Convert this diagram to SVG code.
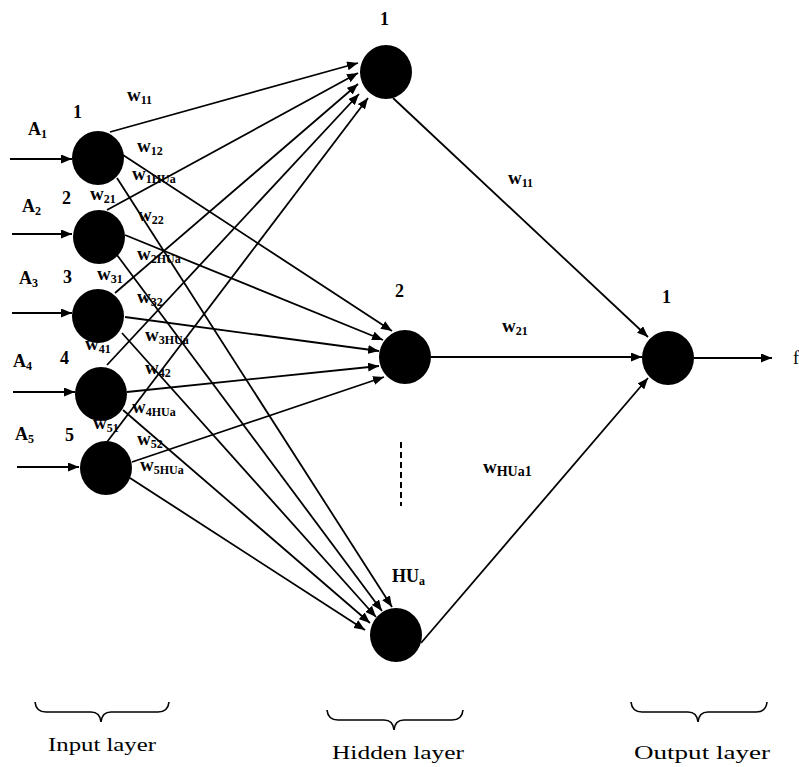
<svg xmlns="http://www.w3.org/2000/svg" width="799" height="767" viewBox="0 0 799 767">
<style>
.node{fill:#000}
.ln{stroke:#000;stroke-width:1.8;fill:none}
.ar{stroke:#000;stroke-width:1.8;fill:none;marker-end:url(#ah)}
.b{font-family:"Liberation Serif","Times New Roman",serif;font-weight:bold;fill:#000}
.w{font-size:19px}
.s{font-size:12px}
.n{font-size:18px}
.cap{font-family:"Liberation Serif","Times New Roman",serif;font-size:19px;fill:#000}
.brace{stroke:#000;stroke-width:1.6;fill:none}
</style>
<defs>
<marker id="ah" markerUnits="userSpaceOnUse" markerWidth="12" markerHeight="9" refX="11" refY="4.5" orient="auto">
<path d="M0,0 L11,4.5 L0,9 z" fill="#000"/>
</marker>
</defs>
<rect width="799" height="767" fill="#fff"/>

<g id="connectors">
<!-- inputs -->
<line class="ar" x1="10" y1="159" x2="72" y2="159"/>
<line class="ar" x1="12" y1="234" x2="72" y2="234"/>
<line class="ar" x1="12" y1="313" x2="72" y2="313"/>
<line class="ar" x1="13" y1="392" x2="75" y2="392"/>
<line class="ar" x1="17" y1="467" x2="79" y2="467"/>
<!-- to hidden 1 -->
<line class="ar" x1="110" y1="132" x2="358" y2="63"/>
<line class="ar" x1="107" y1="210" x2="358" y2="73"/>
<line class="ar" x1="115" y1="293" x2="358" y2="84"/>
<line class="ar" x1="107" y1="365" x2="359" y2="94"/>
<line class="ar" x1="107" y1="442" x2="368" y2="98"/>
<!-- to hidden 2 -->
<line class="ar" x1="123" y1="155" x2="392" y2="331"/>
<line class="ar" x1="125" y1="235" x2="383" y2="340"/>
<line class="ar" x1="125" y1="317" x2="379" y2="351"/>
<line class="ar" x1="127" y1="392" x2="379" y2="366"/>
<line class="ar" x1="132" y1="462" x2="384" y2="377"/>
<!-- to hidden HUa -->
<line class="ar" x1="117" y1="178" x2="392" y2="607"/>
<line class="ar" x1="117" y1="255" x2="382" y2="611"/>
<line class="ar" x1="122" y1="333" x2="376" y2="617"/>
<line class="ar" x1="123" y1="410" x2="370" y2="623"/>
<line class="ar" x1="130" y1="478" x2="365" y2="630"/>
<!-- hidden to output -->
<line class="ar" x1="393" y1="98" x2="648" y2="337"/>
<line class="ar" x1="431" y1="357" x2="642" y2="357"/>
<line class="ar" x1="421" y1="643" x2="648" y2="378"/>
<!-- output -->
<line class="ar" x1="694" y1="358" x2="772" y2="358"/>
<!-- dashed -->
<line x1="401" y1="442" x2="401" y2="506" stroke="#000" stroke-width="2" stroke-dasharray="6,4"/>
</g>

<g id="in1"><ellipse class="node" cx="98" cy="158" rx="26" ry="27"/><text class="b n" x="73" y="118">1</text><text class="b n" x="28" y="135">A<tspan class="s" dy="3">1</tspan></text></g>
<g id="in2"><ellipse class="node" cx="99" cy="237" rx="26" ry="27"/><text class="b n" x="62" y="204">2</text><text class="b n" x="22" y="212">A<tspan class="s" dy="3">2</tspan></text></g>
<g id="in3"><ellipse class="node" cx="98" cy="316" rx="26" ry="27"/><text class="b n" x="63" y="283">3</text><text class="b n" x="19" y="284">A<tspan class="s" dy="3">3</tspan></text></g>
<g id="in4"><ellipse class="node" cx="101" cy="394" rx="26" ry="27"/><text class="b n" x="60" y="364">4</text><text class="b n" x="13" y="367">A<tspan class="s" dy="3">4</tspan></text></g>
<g id="in5"><ellipse class="node" cx="106" cy="468" rx="26" ry="27"/><text class="b n" x="65" y="441">5</text><text class="b n" x="15" y="440">A<tspan class="s" dy="3">5</tspan></text></g>

<g id="h1"><ellipse class="node" cx="386" cy="72" rx="26" ry="27"/><text class="b n" x="380" y="25">1</text></g>
<g id="h2"><ellipse class="node" cx="405" cy="357" rx="26" ry="27"/><text class="b n" x="395" y="297">2</text></g>
<g id="hUa"><ellipse class="node" cx="396" cy="635" rx="26" ry="27"/><text class="b n" x="392" y="582">HU<tspan class="s" dy="3">a</tspan></text></g>
<g id="out1"><ellipse class="node" cx="668" cy="358" rx="26" ry="27"/><text class="b n" x="662" y="303">1</text></g>
<g id="f"><text x="793" y="364" font-family="Liberation Serif, serif" font-size="18">f</text></g>

<g id="weights">
<text class="b w" x="127" y="101">w<tspan class="s" dy="3">11</tspan></text>
<text class="b w" x="137" y="152">w<tspan class="s" dy="3">12</tspan></text>
<text class="b w" x="132" y="180">w<tspan class="s" dy="3">1HUa</tspan></text>
<text class="b w" x="90" y="200">w<tspan class="s" dy="3">21</tspan></text>
<text class="b w" x="138" y="221">w<tspan class="s" dy="3">22</tspan></text>
<text class="b w" x="137" y="260">w<tspan class="s" dy="3">2HUa</tspan></text>
<text class="b w" x="97" y="280">w<tspan class="s" dy="3">31</tspan></text>
<text class="b w" x="137" y="303">w<tspan class="s" dy="3">32</tspan></text>
<text class="b w" x="145" y="341">w<tspan class="s" dy="3">3HUa</tspan></text>
<text class="b w" x="85" y="350">w<tspan class="s" dy="3">41</tspan></text>
<text class="b w" x="145" y="374">w<tspan class="s" dy="3">42</tspan></text>
<text class="b w" x="132" y="413">w<tspan class="s" dy="3">4HUa</tspan></text>
<text class="b w" x="93" y="429">w<tspan class="s" dy="3">51</tspan></text>
<text class="b w" x="137" y="445">w<tspan class="s" dy="3">52</tspan></text>
<text class="b w" x="140" y="471">w<tspan class="s" dy="3">5HUa</tspan></text>
<text class="b w" x="508" y="184">w<tspan class="s" dy="3">11</tspan></text>
<text class="b w" x="502" y="332">w<tspan class="s" dy="3">21</tspan></text>
<text class="b w" x="483" y="473">w<tspan font-size="14" dy="3">HUa1</tspan></text>
</g>

<g id="layers">
<path class="brace" d="M35,702 Q36,712 46,712 L91,712 Q100,712 101,722 Q102,712 111,712 L158,712 Q168,712 169,702"/>
<path class="brace" d="M327,710 Q328,720 338,720 L384,720 Q393,720 394,730 Q395,720 404,720 L452,720 Q462,720 463,710"/>
<path class="brace" d="M631,702 Q632,712 642,712 L688,712 Q697,712 698,722 Q699,712 708,712 L756,712 Q766,712 767,702"/>
<text class="cap" x="48" y="751" textLength="108" lengthAdjust="spacingAndGlyphs">Input layer</text>
<text class="cap" x="332" y="759" textLength="132" lengthAdjust="spacingAndGlyphs">Hidden layer</text>
<text class="cap" x="634" y="759" textLength="136" lengthAdjust="spacingAndGlyphs">Output layer</text>
</g>
</svg>
